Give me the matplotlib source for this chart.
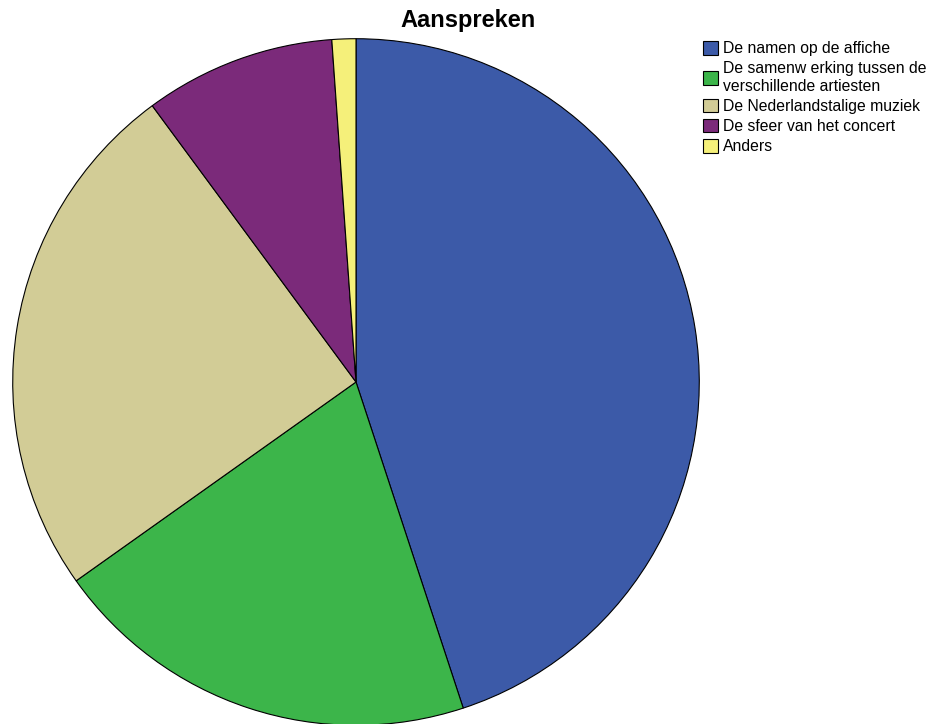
import matplotlib.pyplot as plt

plt.rcParams['font.family'] = ['Liberation Sans', 'DejaVu Sans']

labels = ["De namen op de affiche",
          "De samenw erking tussen de\nverschillende artiesten",
          "De Nederlandstalige muziek",
          "De sfeer van het concert",
          "Anders"]
counts = [40, 18, 22, 8, 1]
colors = ["#3c5aa8", "#3cb54a", "#d2cc96", "#7b2a7a", "#f5f07a"]

W, H = 932, 724
fig = plt.figure(figsize=(W / 100, H / 100), dpi=100)

cx, cy, r = 356, 382, 345
ax = fig.add_axes([(cx - r) / W, (H - cy - r) / H, 2 * r / W, 2 * r / H])
wedges, _ = ax.pie(counts, colors=colors, startangle=90, counterclock=False,
                   radius=1, wedgeprops=dict(edgecolor="black", linewidth=0.8))
ax.set_xlim(-1.005, 1.005)
ax.set_ylim(-1.005, 1.005)
ax.set_aspect("equal")
ax.axis("off")

fig.text(468 / W, 1 - 20 / H, "Aanspreken", ha="center", va="center",
         fontsize=17, fontweight="bold")

leg = fig.legend(wedges, labels, loc="upper left",
                 bbox_to_anchor=(703 / W, 1 - 41 / H), frameon=False,
                 fontsize=11.3, handlelength=0.95, handleheight=0.95,
                 handletextpad=0.3, labelspacing=0.32, borderaxespad=0,
                 borderpad=0)
for h in leg.legend_handles:
    h.set_linewidth(0.8)

fig.savefig("out.png", dpi=100)
